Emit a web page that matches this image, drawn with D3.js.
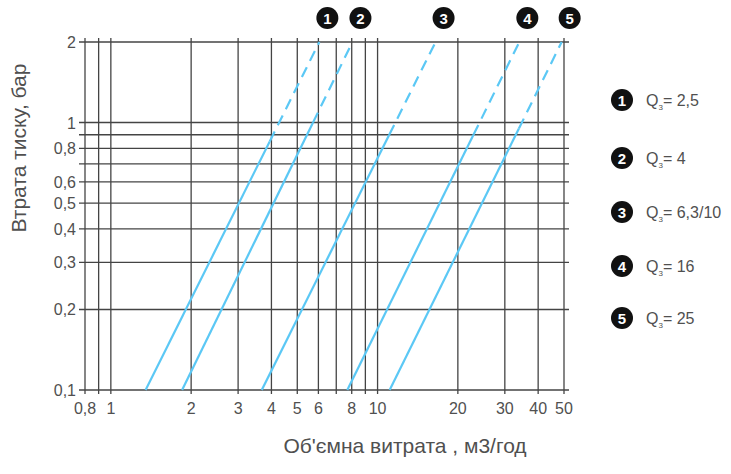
<!DOCTYPE html>
<html>
  <head>
    <script src="https://d3js.org/d3.v7.min.js"></script>
    <style>
      body { margin: 0; background: #fff; }
      text { font-family: "Liberation Sans", Arial, sans-serif; fill: #505050; }
    </style>
  </head>
  <body>
    <div id="chart"></div>
    <script>
      const xGrid = [0.8, 0.9, 1, 2, 3, 4, 5, 6, 7, 8, 9, 10, 20, 30, 40, 50];
      const xLabels = [0.8, 1, 2, 3, 4, 5, 6, 8, 10, 20, 30, 40, 50];
      const yGrid = [0.1, 0.2, 0.3, 0.4, 0.5, 0.6, 0.7, 0.8, 0.9, 1, 2];
      const yLabels = [0.1, 0.2, 0.3, 0.4, 0.5, 0.6, 0.8, 1, 2];
      // each meter: flow at 0.1 bar, flow at 2 bar, pressure where dashes begin
      const meters = ["1", "2", "3", "4", "5"];
      const flowLow = [1.35, 1.85, 3.68, 7.7, 11.1];
      const flowHigh = [6.05, 8.05, 16.5, 34, 49];
      const dashFrom = [0.85, 1.0, 0.9, 0.9, 0.95];
      const legend = ["2,5", "4", "6,3/10", "16", "25"];

      const width = 731, height = 474;
      const fmt = (d) => String(d).replace(".", ",");

      const svg = d3.select("#chart").append("svg")
        .attr("width", width).attr("height", height);

      const x = d3.scaleLog().domain([0.8, 50]).range([85, 564]);
      const y = d3.scaleLog().domain([0.1, 2]).range([390, 42]);

      const grid = svg.append("g").attr("stroke", "#444").attr("stroke-width", 1.3);
      grid.selectAll(".v").data(xGrid).enter().append("line")
        .attr("x1", (d) => x(d)).attr("x2", (d) => x(d))
        .attr("y1", y(2) - 4).attr("y2", y(0.1) + 4);
      grid.selectAll(".h").data(yGrid).enter().append("line")
        .attr("y1", (d) => y(d)).attr("y2", (d) => y(d))
        .attr("x1", x(0.8) - 6).attr("x2", x(50) + 5);

      svg.selectAll(".xl").data(xLabels).enter().append("text")
        .attr("x", (d) => x(d)).attr("y", 414)
        .attr("text-anchor", "middle").style("font-size", "16px")
        .text(fmt);
      svg.selectAll(".yl").data(yLabels).enter().append("text")
        .attr("x", 76).attr("y", (d) => y(d) + 6)
        .attr("text-anchor", "end").style("font-size", "16px")
        .text(fmt);

      // lines Δp ∝ Q^k in log-log => straight lines
      const lines = svg.append("g").attr("stroke", "#5bc8f5").attr("stroke-width", 2.2).attr("fill", "none");
      meters.forEach((m, i) => {
        const k = Math.log(2 / 0.1) / Math.log(flowHigh[i] / flowLow[i]);
        const qAt = (p) => flowLow[i] * Math.pow(p / 0.1, 1 / k);
        lines.append("line")
          .attr("x1", x(flowLow[i])).attr("y1", y(0.1))
          .attr("x2", x(qAt(dashFrom[i]))).attr("y2", y(dashFrom[i]));
        lines.append("line")
          .attr("x1", x(qAt(dashFrom[i]))).attr("y1", y(dashFrom[i]))
          .attr("x2", x(flowHigh[i])).attr("y2", y(2))
          .attr("stroke-dasharray", "11,7");
      });

      const badge = (g, cx, cy, label) => {
        g.append("circle").attr("cx", cx).attr("cy", cy).attr("r", 11).attr("fill", "#111");
        g.append("text").attr("x", cx).attr("y", cy + 5.5).attr("text-anchor", "middle")
          .style("font-size", "15px").style("font-weight", "bold").style("fill", "#fff").text(label);
      };
      meters.forEach((m, i) => badge(svg, x(flowHigh[i]) + 8, 18, m));

      const legY = [100, 158, 212, 266, 318];
      meters.forEach((m, i) => {
        badge(svg, 622, legY[i], m);
        const t = svg.append("text").attr("x", 646).attr("y", legY[i] + 6).style("font-size", "16px");
        t.append("tspan").text("Q");
        t.append("tspan").attr("dy", 4).style("font-size", "8px").text("3");
        t.append("tspan").attr("dy", -4).text("= " + legend[i]);
      });

      svg.append("text").attr("x", 405).attr("y", 453).attr("text-anchor", "middle")
        .style("font-size", "21px").text("Об'ємна витрата ,  м3/год");
      svg.append("text").attr("transform", "translate(26,148) rotate(-90)")
        .attr("text-anchor", "middle").style("font-size", "21px").text("Втрата тиску, бар");
    </script>
  </body>
</html>
